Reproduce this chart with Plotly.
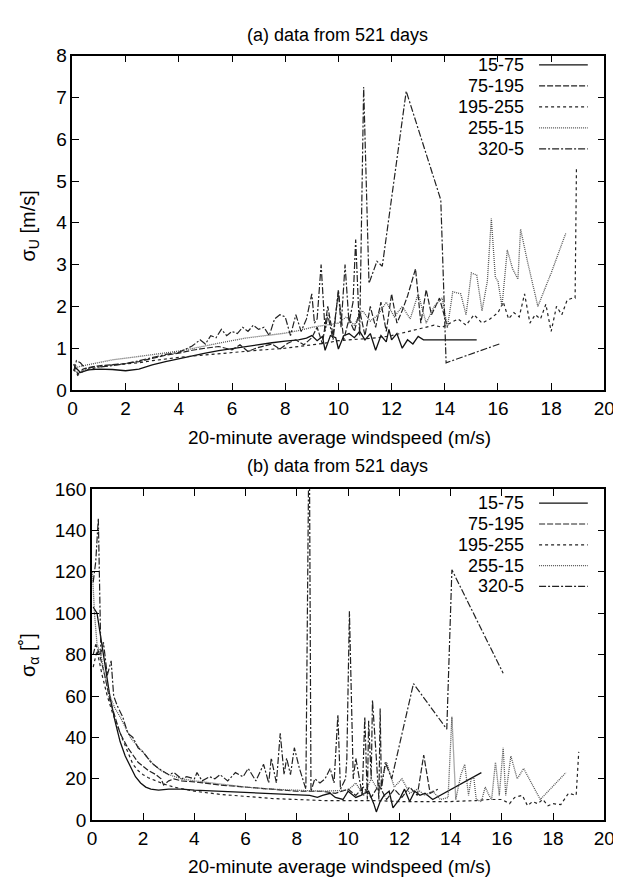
import plotly.graph_objects as go

# ---------------- data: panel (a)  sigma_U [m/s] ----------------
NAMES = ["15-75", "75-195", "195-255", "255-15", "320-5"]

A_X_15_75 = [0.1, 0.3, 0.6, 1.0, 1.5, 2.0, 2.5, 3.0, 3.5, 4.0, 4.5, 5.0, 5.5, 6.0, 6.5, 7.0, 7.5, 8.0, 8.5, 8.8,
             9.0, 9.2, 9.4, 9.5, 9.7, 9.9, 10.0, 10.2, 10.4, 10.6, 10.8, 11.0, 11.2, 11.4, 11.6, 11.8, 11.9, 12.0,
             12.2, 12.4, 12.6, 12.8, 13.0, 13.2, 14.0, 15.2]
A_Y_15_75 = [0.55, 0.42, 0.48, 0.5, 0.49, 0.46, 0.5, 0.6, 0.68, 0.75, 0.82, 0.88, 0.94, 0.99, 1.03, 1.08, 1.13,
             1.17, 1.2, 1.24, 1.3, 1.18, 1.28, 0.95, 1.3, 1.25, 0.98, 1.3, 1.35, 1.25, 1.4, 1.2, 1.35, 0.95, 1.3,
             1.15, 1.45, 1.2, 1.35, 1.0, 1.2, 1.1, 1.28, 1.2, 1.2, 1.2]

A_X_75_195 = [0.05, 0.2, 0.4, 0.7, 1.0, 1.5, 2.0, 2.5, 3.0, 3.5, 4.0, 4.5, 5.0, 5.5, 6.0, 6.3, 6.6, 6.9, 7.2, 7.5,
              7.8, 8.1, 8.4, 8.7, 9.0, 9.2, 9.4, 9.6, 9.8, 10.0, 10.2, 10.4, 10.6, 10.8, 11.0, 11.2, 11.4, 11.6,
              11.8, 12.0, 12.2, 12.4, 12.6, 12.9, 13.1, 13.3, 13.5, 13.8, 14.1]
A_Y_75_195 = [0.62, 0.38, 0.5, 0.55, 0.58, 0.6, 0.63, 0.68, 0.76, 0.83, 0.88, 0.95, 1.0, 1.04, 0.96, 1.08, 0.92,
              1.0, 1.05, 1.1, 0.98, 1.12, 1.2, 1.08, 1.25, 1.5, 1.1, 2.0, 1.3, 2.35, 1.2, 1.7, 1.4, 1.9, 1.3, 2.0,
              1.5, 2.1, 1.4, 2.3, 1.6, 1.9, 2.25, 2.9, 1.6, 2.4, 1.8, 2.2, 1.5]

A_X_195_255 = [0.05, 0.2, 0.4, 0.7, 1.0, 1.5, 2.0, 2.5, 3.0, 3.5, 4.0, 5.0, 6.0, 7.0, 8.0, 9.0, 9.5, 10.0, 10.5,
               11.0, 11.5, 12.0, 12.5, 13.0, 13.3, 13.6, 13.9, 14.2, 14.5, 14.8, 15.1, 15.4, 15.7, 16.0, 16.2,
               16.4, 16.6, 16.8, 17.0, 17.2, 17.4, 17.6, 17.8, 18.0, 18.2, 18.4, 18.6, 18.8, 18.9, 18.95]
A_Y_195_255 = [0.5, 0.35, 0.45, 0.5, 0.55, 0.6, 0.62, 0.65, 0.7, 0.74, 0.78, 0.84, 0.9, 0.95, 1.0, 1.08, 1.12,
               1.18, 1.2, 1.22, 1.25, 1.3, 1.38, 1.45, 1.5, 1.55, 1.5, 1.6, 1.7, 1.55, 1.8, 1.6, 1.7, 1.85, 2.1,
               1.7, 1.85, 1.75, 2.3, 1.6, 1.8, 1.7, 2.05, 1.4, 2.0, 1.8, 2.15, 2.2, 2.2, 5.3]

A_X_255_15 = [0.05, 0.2, 0.4, 0.7, 1.0, 1.5, 2.0, 2.5, 3.0, 3.5, 4.0, 4.5, 5.0, 5.5, 6.0, 6.5, 7.0, 7.5, 8.0, 8.5,
              9.0, 9.5, 10.0, 10.3, 10.6, 10.9, 11.2, 11.5, 11.8, 12.1, 12.4, 12.7, 13.0, 13.3, 13.6, 13.9, 14.1,
              14.3, 14.6, 14.8, 15.0, 15.2, 15.4, 15.6, 15.75, 15.9, 16.0, 16.15, 16.35, 16.55, 16.75, 16.85,
              17.1, 17.5, 18.0, 18.55]
A_Y_255_15 = [0.6, 0.55, 0.58, 0.62, 0.66, 0.72, 0.76, 0.8, 0.84, 0.88, 0.93, 0.99, 1.06, 1.12, 1.18, 1.24, 1.28,
              1.32, 1.36, 1.42, 1.5, 1.55, 1.6, 1.75, 1.55, 1.9, 1.65, 1.8, 2.1, 1.75, 2.0, 1.7, 2.3, 1.6, 2.0,
              2.2, 1.5, 2.35, 2.3, 1.8, 2.8, 2.75, 1.9, 2.6, 4.1, 2.7, 2.6, 2.0, 3.35, 2.9, 2.65, 3.85, 3.1, 2.0,
              2.8, 3.75]

A_X_320_5 = [0.05, 0.15, 0.3, 0.5, 0.8, 1.0, 1.5, 2.0, 2.5, 3.0, 3.5, 4.0, 4.5, 4.8, 5.0, 5.2, 5.4, 5.6, 5.8, 6.0,
             6.2, 6.4, 6.6, 6.8, 7.0, 7.2, 7.4, 7.6, 7.8, 8.0, 8.2, 8.4, 8.6, 8.8, 9.0, 9.1, 9.2, 9.35, 9.5, 9.6,
             9.8, 10.0, 10.1, 10.25, 10.4, 10.55, 10.65, 10.8, 10.95, 11.15, 11.45, 11.65, 12.55, 13.85, 14.05,
             16.05]
A_Y_320_5 = [0.45, 0.7, 0.65, 0.5, 0.55, 0.55, 0.58, 0.63, 0.7, 0.78, 0.85, 0.9, 1.05, 1.2, 1.1, 1.3, 1.25, 1.45,
             1.3, 1.4, 1.35, 1.5, 1.4, 1.55, 1.45, 1.5, 1.3, 1.7, 1.8, 1.75, 1.3, 1.8, 1.4, 1.7, 2.3, 1.6, 1.7,
             3.0, 1.4, 1.8, 1.2, 2.4, 1.5, 3.0, 1.6, 2.1, 3.6, 1.3, 7.25, 2.55, 3.08, 2.96, 7.15, 4.55, 0.65, 1.1]

# ---------------- data: panel (b)  sigma_alpha [deg] ----------------
B_X_15_75 = [0.05, 0.2, 0.35, 0.5, 0.7, 0.9, 1.1, 1.3, 1.5, 1.7, 1.9, 2.1, 2.3, 2.6, 3.0, 3.5, 4.0, 5.0, 6.0, 7.0,
             8.0, 8.5, 8.8, 9.0, 9.3, 9.5, 9.8, 10.0, 10.3, 10.5, 10.8, 11.0, 11.1, 11.25, 11.4, 11.6, 11.75,
             12.0, 12.2, 12.4, 12.6, 12.8, 13.0, 13.3, 15.2]
B_Y_15_75 = [103, 100, 88, 75, 60, 48, 38, 31, 26, 21, 18, 16, 15, 14.5, 15, 15, 14.5, 14, 13.5, 13, 12.5, 12, 11,
             12, 13, 11, 10, 14, 11, 12, 14, 8, 4, 9, 12, 14, 6, 10, 15, 9, 14, 12, 13, 10, 23]

B_X_75_195 = [0.05, 0.15, 0.3, 0.5, 0.7, 0.9, 1.1, 1.4, 1.8, 2.2, 2.5, 2.7, 2.8, 3.0, 3.2, 3.5, 4.0, 5.0, 6.0,
              7.0, 8.0, 9.0, 9.5, 10.0, 10.3, 10.6, 10.9, 11.2, 11.5, 11.8, 12.1, 12.4, 12.7, 12.95, 13.2, 13.5]
B_Y_75_195 = [80, 85, 80, 70, 58, 50, 42, 35, 28, 24, 22, 20, 17, 19, 20, 19, 18.5, 17, 16, 15, 14, 14, 13, 15,
              12, 16, 11, 17, 10, 15, 11, 16, 12, 31.5, 13, 15]

B_X_195_255 = [0.05, 0.2, 0.4, 0.6, 0.8, 1.0, 1.2, 1.4, 1.6, 1.8, 2.0, 2.2, 2.5, 2.8, 3.2, 3.6, 4.0, 5.0, 6.0,
               7.0, 8.0, 9.0, 10.0, 11.0, 12.0, 13.0, 14.0, 15.0, 15.5, 16.0, 16.3, 16.5, 16.8, 17.0, 17.2, 17.4,
               17.6, 17.8, 18.0, 18.3, 18.6, 18.9, 19.0]
B_Y_195_255 = [74, 82, 70, 60, 52, 45, 39, 33, 27, 24, 22, 20.5, 19, 17.5, 16, 15, 14, 12.5, 11.5, 10.5, 10,
               9.5, 9.5, 9.5, 9, 9, 9, 9.5, 10, 10, 8, 11, 12, 7, 9, 8, 10, 7, 8, 7.5, 13, 12, 33]

B_X_255_15 = [0.02, 0.1, 0.2, 0.35, 0.5, 0.7, 0.9, 1.1, 1.3, 1.5, 1.7, 1.9, 2.1, 2.4, 2.7, 3.0, 3.5, 4.0, 5.0,
              6.0, 7.0, 8.0, 9.0, 10.0, 10.3, 10.6, 10.9, 11.2, 11.5, 11.8, 12.1, 12.4, 12.7, 13.0, 13.3, 13.6,
              13.9, 14.05, 14.2, 14.4, 14.55, 14.7, 14.8, 14.9, 15.0, 15.2, 15.35, 15.5, 15.6, 15.75, 15.9,
              16.05, 16.15, 16.35, 16.6, 16.85, 17.5, 18.5]
B_Y_255_15 = [120, 100, 85, 80, 70, 60, 54, 50, 45, 40, 37, 34, 31, 27, 24, 22, 20, 19, 17.5, 16, 15, 14.5, 14,
              14.5, 18, 12, 20, 14, 28, 16, 20, 13, 15, 12, 14, 10, 11, 50, 10, 22, 27, 12, 20, 21, 10, 9, 16,
              12, 10, 28, 12, 35, 12, 31, 20, 25, 10, 23]

B_X_320_5 = [0.05, 0.15, 0.25, 0.35, 0.45, 0.6, 0.75, 0.85, 1.0, 1.2, 1.4, 1.6, 1.8, 2.0, 2.3, 2.6, 3.0, 3.2, 3.5,
             3.7, 4.0, 4.1, 4.3, 4.6, 4.8, 5.0, 5.3, 5.6, 5.9, 6.1, 6.4, 6.7, 6.9, 7.0, 7.2, 7.35, 7.5, 7.6, 7.75,
             7.9, 8.1, 8.35, 8.48, 8.55, 8.7, 8.9, 9.1, 9.3, 9.45, 9.6, 9.7, 9.9, 9.95, 10.05, 10.2, 10.3, 10.55,
             10.65, 10.75, 10.8, 10.9, 10.95, 11.1, 11.2, 11.25, 11.3, 11.45, 11.7, 12.55, 13.85, 14.05, 16.05]
B_Y_320_5 = [115, 125, 146, 80, 86, 70, 77, 60, 55, 50, 42, 40, 35, 33, 28, 25, 22, 23, 20, 21, 20, 23, 19, 21,
             20, 22, 19, 23, 21, 25, 19, 27, 18, 30, 18, 42, 22, 30, 22, 35, 25, 15, 200, 14, 20, 18, 20, 25, 18,
             51, 15, 20, 30, 101, 20, 30, 12, 50, 10, 48, 20, 58, 30, 10, 54, 15, 28, 20, 66, 44, 121, 71]

X_TICKS = [0, 2, 4, 6, 8, 10, 12, 14, 16, 18, 20]
A_Y_TICKS = [0, 1, 2, 3, 4, 5, 6, 7, 8]
B_Y_TICKS = [0, 20, 40, 60, 80, 100, 120, 140, 160]

# ---------------- styles ----------------
DASHES = ["solid", "6px,2px", "3px,3px", "1px,1px", "7px,2px,2px,2px"]
COLORS = ["#111111", "#222222", "#222222", "#555555", "#222222"]
WIDTHS = [1.3, 1.2, 1.2, 1.3, 1.2]
FONT = "Liberation Sans, Arial, Helvetica, sans-serif"
TICK_SIZE = 19
TEXT_SIZE = 18

W, H = 621, 885


def fx(p):
    return p / W


def fy(p):
    return 1 - p / H


fig = go.Figure()

panels = [
    ("x", "y", [(A_X_15_75, A_Y_15_75), (A_X_75_195, A_Y_75_195), (A_X_195_255, A_Y_195_255),
                (A_X_255_15, A_Y_255_15), (A_X_320_5, A_Y_320_5)]),
    ("x2", "y2", [(B_X_15_75, B_Y_15_75), (B_X_75_195, B_Y_75_195), (B_X_195_255, B_Y_195_255),
                  (B_X_255_15, B_Y_255_15), (B_X_320_5, B_Y_320_5)]),
]
for xa, ya, series in panels:
    for i, (xs, ys) in enumerate(series):
        fig.add_trace(go.Scatter(
            x=xs, y=ys, mode="lines", name=NAMES[i], showlegend=False,
            xaxis=xa, yaxis=ya,
            line=dict(color=COLORS[i], width=WIDTHS[i], dash=DASHES[i]),
        ))

axis_common = dict(
    showline=True, linecolor="black", linewidth=1.5, mirror="ticks",
    ticks="inside", ticklen=7, tickwidth=1.2, tickcolor="black",
    showgrid=False, zeroline=False,
    tickfont=dict(family=FONT, size=TICK_SIZE, color="black"),
)

fig.update_layout(
    width=W, height=H,
    margin=dict(l=0, r=0, t=0, b=0),
    paper_bgcolor="white", plot_bgcolor="white",
    showlegend=False,
    xaxis=dict(domain=[fx(61), fx(607)], range=[0, 20], tickvals=X_TICKS, anchor="y", **axis_common),
    yaxis=dict(domain=[fy(381), fy(38.6)], range=[0, 8], tickvals=A_Y_TICKS, anchor="x", **axis_common),
    xaxis2=dict(domain=[fx(81), fx(607)], range=[0, 20], tickvals=X_TICKS, anchor="y2", **axis_common),
    yaxis2=dict(domain=[fy(821.7), fy(482.5)], range=[0, 160], tickvals=B_Y_TICKS, anchor="x2", **axis_common),
)

annotations = []
shapes = []

# titles and axis labels
for text, xpix, ypix, ang, size in [
    ("(a) data from 521 days", 333, 17, 0, 18),
    ("20-minute average windspeed (m/s)", 335, 430, 0, 19),
    ("σ<sub>U</sub> [m/s]", 17, 213, -90, 20),
    ("(b) data from 521 days", 333, 459, 0, 18),
    ("20-minute average windspeed (m/s)", 335, 869, 0, 19),
    ("σ<sub>α</sub> [˚]", 17, 653, -90, 20),
]:
    annotations.append(dict(
        text=text, x=fx(xpix), y=fy(ypix), xref="paper", yref="paper",
        xanchor="center", yanchor="middle", showarrow=False, textangle=ang,
        font=dict(family=FONT, size=size, color="black"),
    ))

# key (gnuplot style: label right-aligned, sample line to its right)
for top, step in [(48, 21.5), (497, 21.3)]:
    for i, name in enumerate(NAMES):
        yy = top + i * step
        annotations.append(dict(
            text=name, x=fx(527), y=fy(yy), xref="paper", yref="paper",
            xanchor="right", yanchor="middle", showarrow=False,
            font=dict(family=FONT, size=TEXT_SIZE, color="black"),
        ))
        shapes.append(dict(
            type="line", xref="paper", yref="paper",
            x0=fx(540), x1=fx(590), y0=fy(yy), y1=fy(yy),
            line=dict(color=COLORS[i], width=WIDTHS[i], dash=DASHES[i]),
        ))

fig.update_layout(annotations=annotations, shapes=shapes)

fig.write_html("out.html")
